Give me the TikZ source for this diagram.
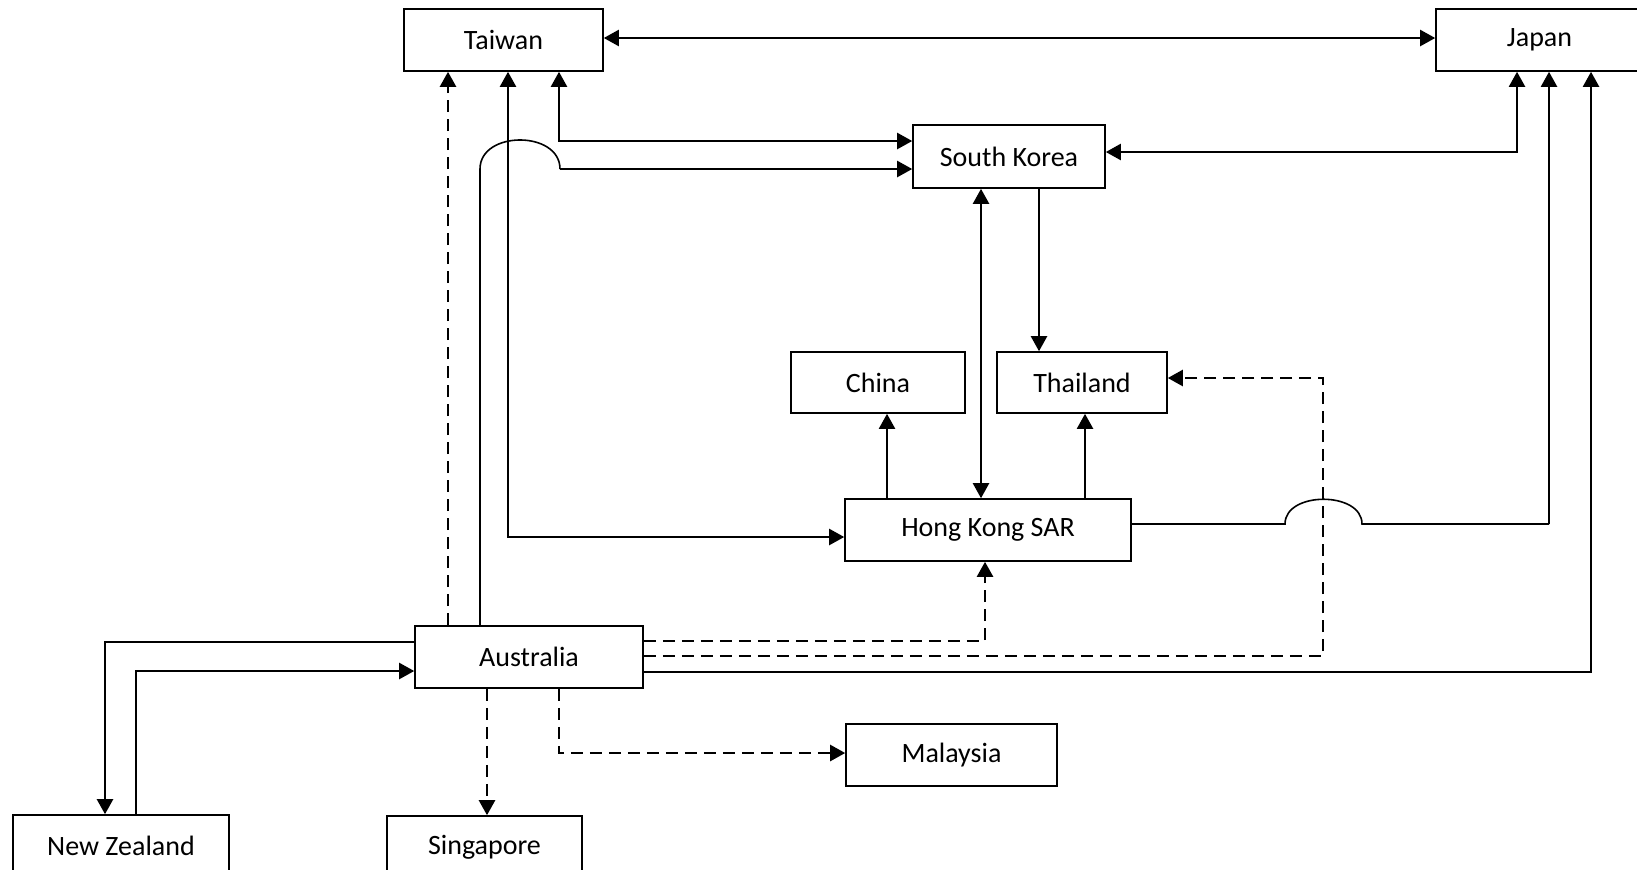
\documentclass[tikz,border=0pt]{standalone}
\usepackage{fontspec}
\setmainfont{Carlito}
\usetikzlibrary{arrows.meta}
\begin{document}
\begin{tikzpicture}[x=0.5pt,y=-0.5pt,
  box/.style={draw, line width=0.8pt, minimum height=31pt, inner sep=0pt, font=\fontsize{14}{16}\selectfont},
  con/.style={line width=1.1pt, line join=miter},
  thin con/.style={line width=0.8pt},
  dsh/.style={con, line width=1.2pt, dash pattern=on 6pt off 3.5pt},
  tip/.style={-{Triangle[length=7.5pt,width=8pt]}},
  both/.style={{Triangle[length=7.5pt,width=8pt]}-{Triangle[length=7.5pt,width=8pt]}}
]
\useasboundingbox (0,0) rectangle (1637,869);
\fill[white] (0,0) rectangle (1637,869);
\clip (0,0) rectangle (1637,869);

% nodes
\node[box, minimum width=99.5pt] (tw) at (503.5,40) {Taiwan};
\node[box, minimum width=103.5pt] (jp) at (1539.5,40) {Japan};
\node[box, minimum width=96pt, minimum height=31.5pt] (sk) at (1009,156.5) {South Korea};
\node[box, minimum width=87pt, minimum height=30.5pt] (cn) at (878,382.5) {China};
\node[box, minimum width=85pt, minimum height=30.5pt] (th) at (1082,382.5) {Thailand};
\node[box, minimum width=143pt] (hk) at (988,530) {Hong Kong SAR};
\node[box, minimum width=114pt] (au) at (529,657) {Australia};
\node[box, minimum width=105.5pt] (ml) at (951.5,755) {Malaysia};
\node[box, minimum width=108pt] (nz) at (121,846) {New Zealand};
\node[box, minimum width=97.5pt] (sg) at (484.5,847) {Singapore};

% Taiwan <-> Japan
\draw[con, both] (tw.east |- 0,38) -- (jp.west |- 0,38);
% Australia -> Taiwan (dashed)
\draw[dsh, tip] (au.north -| 448,0) -- (tw.south -| 448,0);
% Taiwan <-> Hong Kong
\draw[con, both] (tw.south -| 508,0) -- (508,537) -- (hk.west |- 0,537);
% Taiwan <-> South Korea
\draw[con, both] (tw.south -| 559,0) -- (559,141) -- (sk.west |- 0,141);
% Australia -> South Korea (with line jump)
\draw[thin con] (au.north -| 480,0) -- (480,169) .. controls (480,130.3) and (560,130.3) .. (560,169);
\draw[con, tip] (560,169) -- (sk.west |- 0,169);
% South Korea <-> Japan
\draw[con, both] (sk.east |- 0,152) -- (1517,152) -- (jp.south -| 1517,0);
% South Korea <-> Hong Kong
\draw[con, both] (sk.south -| 981,0) -- (hk.north -| 981,0);
% South Korea -> Thailand
\draw[con, tip] (sk.south -| 1039,0) -- (th.north -| 1039,0);
% Hong Kong -> China, Thailand
\draw[con, tip] (hk.north -| 887,0) -- (cn.south -| 887,0);
\draw[con, tip] (hk.north -| 1085,0) -- (th.south -| 1085,0);
% Hong Kong -> Japan (with line jump)
\draw[thin con] (hk.east |- 0,524) -- (1285,524) .. controls (1285,491) and (1362,491) .. (1362,524) -- (1549,524);
\draw[con, tip] (1549,524) -- (jp.south -| 1549,0);
% Australia -> Japan
\draw[con, tip] (au.east |- 0,672) -- (1591,672) -- (jp.south -| 1591,0);
% Australia -> Hong Kong (dashed)
\draw[dsh, tip] (au.east |- 0,641) -- (985,641) -- (hk.south -| 985,0);
% Australia -> Thailand (dashed)
\draw[dsh, tip] (au.east |- 0,656) -- (1323,656) -- (1323,378) -- (th.east |- 0,378);
% Australia <-> New Zealand
\draw[con, tip] (au.west |- 0,642) -- (105,642) -- (nz.north -| 105,0);
\draw[con, tip] (nz.north -| 136,0) -- (136,671) -- (au.west |- 0,671);
% Australia -> Singapore, Malaysia (dashed)
\draw[dsh, tip] (au.south -| 487,0) -- (sg.north -| 487,0);
\draw[dsh, tip] (au.south -| 559,0) -- (559,753) -- (ml.west |- 0,753);
\end{tikzpicture}
\end{document}
